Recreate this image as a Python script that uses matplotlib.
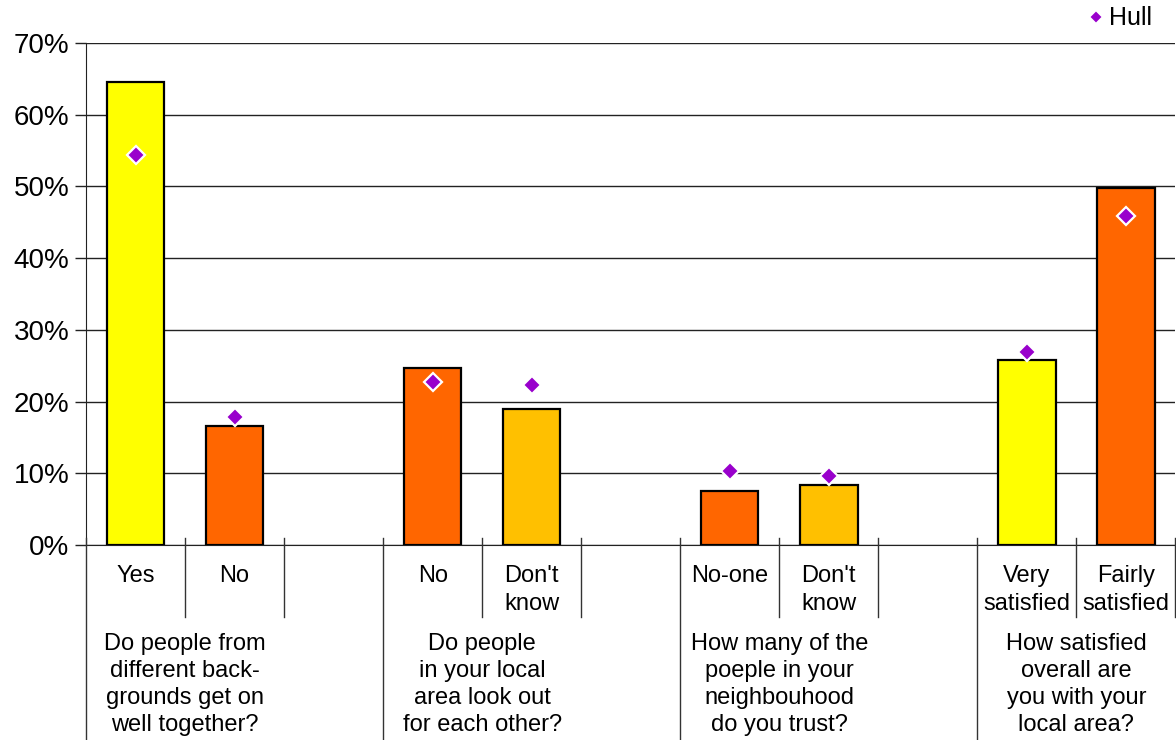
import matplotlib
matplotlib.use('Agg')
import matplotlib.pyplot as plt

plt.rcParams['font.family'] = ['Liberation Sans', 'DejaVu Sans']

# data
groups = ['Do people from\ndifferent back-\ngrounds get on\nwell together?',
          'Do people\nin your local\narea look out\nfor each other?',
          'How many of the\npoeple in your\nneighbouhood\ndo you trust?',
          'How satisfied\noverall are\nyou with your\nlocal area?']
answers = [['Yes', 'No'], ['No', "Don't\nknow"], ['No-one', "Don't\nknow"],
           ['Very\nsatisfied', 'Fairly\nsatisfied']]
area_vals = [[64.6, 16.6], [24.7, 19.0], [7.5, 8.4], [25.8, 49.8]]
hull_vals = [[54.4, 17.8], [22.7, 22.3], [10.3, 9.6], [26.9, 45.9]]
bar_cols = [['#FFFF00', '#FF6600'], ['#FF6600', '#FFC000'],
            ['#FF6600', '#FFC000'], ['#FFFF00', '#FF6600']]
yticks = [0, 10, 20, 30, 40, 50, 60, 70]

fig = plt.figure(figsize=(11.76, 7.40), dpi=100)
ax = fig.add_axes([86 / 1176, 1 - 545 / 740, 1 - 86 / 1176 - 0.0005, (545 - 43) / 740])

tr = ax.get_xaxis_transform()
y_short = -(617 - 545) / 502
y_long = -(740 - 545) / 502
y_up = 7 / 502

hull_done = False
for g, q in enumerate(groups):
    base = g * 3
    for j in range(2):
        x = base + j + 0.5
        ax.bar(x, area_vals[g][j], width=0.58, color=bar_cols[g][j],
               edgecolor='black', linewidth=1.6, zorder=3)
        ax.plot(x, hull_vals[g][j], 'D', color='#9900CC', mec='white', mew=1.6,
                ms=9.5, zorder=5, label='Hull' if not hull_done else None)
        hull_done = True
        ax.text(x, -(565 - 545) / 502, answers[g][j], transform=tr, ha='center',
                va='top', fontsize=17, linespacing=1.33)
    ax.text(base + 1, -(633 - 545) / 502, q, transform=tr, ha='center', va='top',
            fontsize=17, linespacing=1.3)
    # separators
    ax.plot([base, base], [y_up, y_long], transform=tr, color='#333333', lw=1,
            clip_on=False, zorder=4)
    for k in (1, 2):
        ax.plot([base + k, base + k], [y_up, y_short], transform=tr, color='#333333',
                lw=1, clip_on=False, zorder=4)

ax.set_xlim(0, 11)
ax.set_ylim(0, 70)
ax.set_yticks(yticks)
ax.set_yticklabels([f'{t}%' for t in yticks], fontsize=20)
ax.set_xticks([])
ax.yaxis.grid(True, color='#222222', lw=1)
ax.set_axisbelow(True)
ax.tick_params(axis='y', length=8, width=1, color='#222222', pad=4)
for s in ('top', 'right'):
    ax.spines[s].set_visible(False)
ax.spines['left'].set_color('#222222')
ax.spines['bottom'].set_color('#222222')

ax.legend(loc='upper right', bbox_to_anchor=(1158 / 1176, 1.0), bbox_transform=fig.transFigure,
          frameon=False, fontsize=18, handletextpad=0.0, handlelength=1.0, markerscale=0.8,
          borderaxespad=0.0, borderpad=0.25)

fig.savefig('out.png', dpi=100)
